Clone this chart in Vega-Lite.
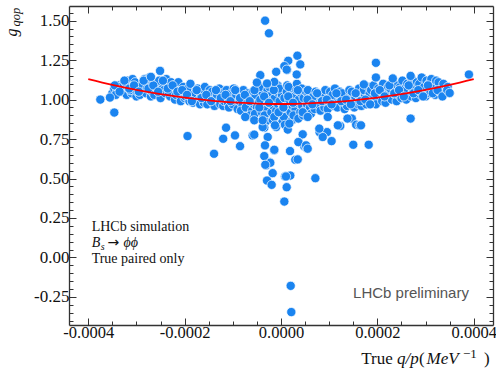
{
"$schema": "https://vega.github.io/schema/vega-lite/v6.json",
"width": 424, "height": 319,
"autosize": {"type": "none"},
"padding": {"left": 69, "top": 6, "right": 3, "bottom": 46},
"config": {
  "view": {"stroke": null},
  "axis": {"grid": false, "domainColor": "#333", "domainWidth": 1.3, "tickColor": "#333", "tickWidth": 1, "labelColor": "#111", "titleColor": "#111", "labelFont": "Liberation Serif", "titleFont": "Liberation Serif", "labelFontSize": 17, "titleFontWeight": "normal", "zindex": 1}
},
"datasets": {
  "pts": [
    {"q":-0.000350,"g":1.04},{"q":-0.000346,"g":1.07},
    {"q":-0.000340,"g":1.06},{"q":-0.000336,"g":1.09},{"q":-0.000343,"g":1.03},
    {"q":-0.000330,"g":1.05},{"q":-0.000326,"g":1.10},{"q":-0.000333,"g":1.08},
    {"q":-0.000320,"g":1.03},{"q":-0.000316,"g":1.07},{"q":-0.000323,"g":1.11},{"q":-0.000318,"g":1.12},
    {"q":-0.000310,"g":1.04},{"q":-0.000306,"g":1.09},{"q":-0.000313,"g":1.06},{"q":-0.000308,"g":1.13},
    {"q":-0.000300,"g":1.02},{"q":-0.000296,"g":1.08},{"q":-0.000303,"g":1.11},{"q":-0.000298,"g":1.05},
    {"q":-0.000290,"g":1.06},{"q":-0.000286,"g":1.12},{"q":-0.000293,"g":1.03},{"q":-0.000288,"g":1.09},
    {"q":-0.000280,"g":1.04},{"q":-0.000276,"g":1.10},{"q":-0.000283,"g":1.13},{"q":-0.000278,"g":1.07},
    {"q":-0.000270,"g":1.02},{"q":-0.000266,"g":1.08},{"q":-0.000273,"g":1.14},{"q":-0.000268,"g":1.05},
    {"q":-0.000260,"g":1.06},{"q":-0.000256,"g":1.11},{"q":-0.000263,"g":1.03},{"q":-0.000258,"g":1.09},
    {"q":-0.000250,"g":1.01},{"q":-0.000246,"g":1.07},{"q":-0.000253,"g":1.12},
    {"q":-0.000240,"g":1.04},{"q":-0.000236,"g":1.10},{"q":-0.000243,"g":1.06},{"q":-0.000238,"g":1.13},
    {"q":-0.000230,"g":1.02},{"q":-0.000226,"g":1.08},{"q":-0.000233,"g":1.05},{"q":-0.000228,"g":1.11},
    {"q":-0.000220,"g":1.00},{"q":-0.000216,"g":1.06},{"q":-0.000223,"g":1.09},{"q":-0.000218,"g":1.03},
    {"q":-0.000210,"g":1.03},{"q":-0.000206,"g":1.07},{"q":-0.000213,"g":1.11},{"q":-0.000208,"g":0.99},
    {"q":-0.000200,"g":1.01},{"q":-0.000196,"g":1.05},{"q":-0.000203,"g":1.08},{"q":-0.000198,"g":1.02},
    {"q":-0.000190,"g":0.99},{"q":-0.000186,"g":1.04},{"q":-0.000193,"g":1.07},{"q":-0.000188,"g":1.10},
    {"q":-0.000180,"g":1.02},{"q":-0.000176,"g":1.06},{"q":-0.000183,"g":0.98},{"q":-0.000178,"g":1.04},
    {"q":-0.000170,"g":1.00},{"q":-0.000166,"g":1.03},{"q":-0.000173,"g":1.07},{"q":-0.000168,"g":0.97},
    {"q":-0.000160,"g":0.98},{"q":-0.000156,"g":1.02},{"q":-0.000163,"g":1.05},{"q":-0.000158,"g":1.08},
    {"q":-0.000150,"g":1.00},{"q":-0.000146,"g":1.04},{"q":-0.000153,"g":0.97},{"q":-0.000148,"g":1.06},
    {"q":-0.000140,"g":0.98},{"q":-0.000136,"g":1.02},{"q":-0.000143,"g":1.05},{"q":-0.000138,"g":0.96},
    {"q":-0.000130,"g":1.00},{"q":-0.000126,"g":0.97},{"q":-0.000133,"g":1.03},{"q":-0.000128,"g":1.07},
    {"q":-0.000120,"g":0.96},{"q":-0.000116,"g":1.01},{"q":-0.000123,"g":1.04},{"q":-0.000118,"g":0.99},
    {"q":-0.000110,"g":0.98},{"q":-0.000106,"g":1.02},{"q":-0.000113,"g":1.06},{"q":-0.000108,"g":0.95},
    {"q":-0.000100,"g":0.97},{"q":-0.000096,"g":1.00},{"q":-0.000103,"g":1.04},{"q":-0.000098,"g":1.07},
    {"q":-0.000090,"g":0.94},{"q":-0.000086,"g":0.99},{"q":-0.000093,"g":1.03},{"q":-0.000088,"g":1.05},
    {"q":-0.000080,"g":0.96},{"q":-0.000076,"g":1.01},{"q":-0.000083,"g":0.93},{"q":-0.000078,"g":1.06},
    {"q":-0.000070,"g":0.98},{"q":-0.000066,"g":1.02},{"q":-0.000073,"g":0.95},{"q":-0.000068,"g":1.04},
    {"q":-0.000060,"g":0.93},{"q":-0.000056,"g":0.97},{"q":-0.000063,"g":1.01},{"q":-0.000058,"g":1.05},{"q":-0.000064,"g":0.90},
    {"q":-0.000050,"g":0.95},{"q":-0.000046,"g":0.99},{"q":-0.000053,"g":1.03},{"q":-0.000048,"g":1.07},{"q":-0.000054,"g":0.91},
    {"q":-0.000040,"g":0.92},{"q":-0.000036,"g":0.97},{"q":-0.000043,"g":1.00},{"q":-0.000038,"g":1.04},{"q":-0.000044,"g":1.08},{"q":-0.000037,"g":0.88},
    {"q":-0.000030,"g":0.94},{"q":-0.000026,"g":0.98},{"q":-0.000033,"g":1.02},{"q":-0.000028,"g":1.06},{"q":-0.000034,"g":0.90},{"q":-0.000027,"g":1.10},{"q":-0.000032,"g":0.86},
    {"q":-0.000020,"g":0.92},{"q":-0.000016,"g":0.96},{"q":-0.000023,"g":1.00},{"q":-0.000018,"g":1.04},{"q":-0.000024,"g":1.08},{"q":-0.000017,"g":0.87},
    {"q":-0.000010,"g":0.93},{"q":-0.000006,"g":0.97},{"q":-0.000013,"g":1.01},{"q":-0.000008,"g":1.05},{"q":-0.000014,"g":0.89},{"q":-0.000007,"g":1.09},
    {"q":0.000000,"g":0.91},{"q":0.000004,"g":0.95},{"q":-0.000003,"g":0.99},{"q":0.000002,"g":1.03},{"q":-0.000004,"g":1.07},{"q":0.000003,"g":0.86},
    {"q":0.000010,"g":0.93},{"q":0.000014,"g":0.97},{"q":0.000007,"g":1.01},{"q":0.000012,"g":1.05},{"q":0.000006,"g":0.89},{"q":0.000013,"g":1.09},{"q":0.000008,"g":0.84},
    {"q":0.000020,"g":0.92},{"q":0.000024,"g":0.96},{"q":0.000017,"g":1.00},{"q":0.000022,"g":1.04},{"q":0.000016,"g":1.08},{"q":0.000023,"g":0.87},
    {"q":0.000030,"g":0.94},{"q":0.000034,"g":0.98},{"q":0.000027,"g":1.02},{"q":0.000032,"g":1.06},{"q":0.000026,"g":0.90},{"q":0.000033,"g":1.10},
    {"q":0.000040,"g":0.92},{"q":0.000044,"g":0.96},{"q":0.000037,"g":1.00},{"q":0.000042,"g":1.04},{"q":0.000036,"g":0.88},{"q":0.000043,"g":1.07},
    {"q":0.000050,"g":0.93},{"q":0.000054,"g":0.97},{"q":0.000047,"g":1.01},{"q":0.000052,"g":1.05},{"q":0.000046,"g":0.90},
    {"q":0.000060,"g":0.95},{"q":0.000064,"g":0.99},{"q":0.000057,"g":1.03},{"q":0.000062,"g":0.91},{"q":0.000056,"g":1.06},
    {"q":0.000070,"g":0.94},{"q":0.000074,"g":0.98},{"q":0.000067,"g":1.02},{"q":0.000072,"g":1.05},
    {"q":0.000080,"g":0.96},{"q":0.000084,"g":1.00},{"q":0.000077,"g":1.04},{"q":0.000082,"g":0.93},
    {"q":0.000090,"g":0.95},{"q":0.000094,"g":0.99},{"q":0.000087,"g":1.03},{"q":0.000092,"g":1.06},
    {"q":0.000100,"g":0.97},{"q":0.000104,"g":1.01},{"q":0.000097,"g":0.94},{"q":0.000102,"g":1.05},
    {"q":0.000110,"g":0.96},{"q":0.000114,"g":1.00},{"q":0.000107,"g":1.03},{"q":0.000112,"g":1.07},
    {"q":0.000120,"g":0.98},{"q":0.000124,"g":1.02},{"q":0.000117,"g":0.95},{"q":0.000122,"g":1.05},
    {"q":0.000130,"g":0.97},{"q":0.000134,"g":1.01},{"q":0.000127,"g":1.04},{"q":0.000132,"g":0.94},
    {"q":0.000140,"g":0.99},{"q":0.000144,"g":1.03},{"q":0.000137,"g":0.96},{"q":0.000142,"g":1.06},
    {"q":0.000150,"g":0.98},{"q":0.000154,"g":1.02},{"q":0.000147,"g":1.05},{"q":0.000152,"g":0.95},
    {"q":0.000160,"g":0.97},{"q":0.000164,"g":1.01},{"q":0.000157,"g":1.04},{"q":0.000162,"g":1.07},
    {"q":0.000170,"g":0.99},{"q":0.000174,"g":1.03},{"q":0.000167,"g":0.96},{"q":0.000172,"g":1.06},
    {"q":0.000180,"g":1.00},{"q":0.000184,"g":1.04},{"q":0.000177,"g":0.97},{"q":0.000182,"g":1.08},
    {"q":0.000190,"g":0.98},{"q":0.000194,"g":1.02},{"q":0.000187,"g":1.06},{"q":0.000192,"g":1.09},
    {"q":0.000200,"g":1.00},{"q":0.000204,"g":1.04},{"q":0.000197,"g":0.97},{"q":0.000202,"g":1.07},
    {"q":0.000210,"g":0.99},{"q":0.000214,"g":1.03},{"q":0.000207,"g":1.06},{"q":0.000212,"g":1.10},
    {"q":0.000220,"g":1.01},{"q":0.000224,"g":1.05},{"q":0.000217,"g":0.98},{"q":0.000222,"g":1.08},
    {"q":0.000230,"g":1.00},{"q":0.000234,"g":1.04},{"q":0.000227,"g":1.07},{"q":0.000232,"g":1.11},
    {"q":0.000240,"g":0.99},{"q":0.000244,"g":1.03},{"q":0.000237,"g":1.06},{"q":0.000242,"g":1.09},
    {"q":0.000250,"g":1.01},{"q":0.000254,"g":1.05},{"q":0.000247,"g":1.08},{"q":0.000252,"g":1.12},
    {"q":0.000260,"g":1.00},{"q":0.000264,"g":1.04},{"q":0.000257,"g":1.07},{"q":0.000262,"g":1.10},
    {"q":0.000270,"g":1.02},{"q":0.000274,"g":1.06},{"q":0.000267,"g":1.09},{"q":0.000272,"g":1.13},
    {"q":0.000280,"g":1.01},{"q":0.000284,"g":1.05},{"q":0.000277,"g":1.08},{"q":0.000282,"g":1.11},
    {"q":0.000290,"g":1.03},{"q":0.000294,"g":1.06},{"q":0.000287,"g":1.10},{"q":0.000292,"g":1.14},
    {"q":0.000300,"g":1.02},{"q":0.000304,"g":1.05},{"q":0.000297,"g":1.08},{"q":0.000302,"g":1.12},
    {"q":0.000310,"g":1.04},{"q":0.000314,"g":1.07},{"q":0.000307,"g":1.10},{"q":0.000312,"g":1.13},
    {"q":0.000320,"g":1.03},{"q":0.000324,"g":1.06},{"q":0.000317,"g":1.09},{"q":0.000322,"g":1.12},
    {"q":0.000330,"g":1.05},{"q":0.000334,"g":1.08},{"q":0.000327,"g":1.11},
    {"q":0.000340,"g":1.04},{"q":0.000344,"g":1.07},{"q":0.000337,"g":1.10},
    {"q":0.000350,"g":1.04},{"q":0.000346,"g":1.08},
    {"q":-0.000345,"g":1.09},{"q":-0.000335,"g":1.05},{"q":-0.000325,"g":1.12},{"q":-0.000315,"g":1.07},
    {"q":-0.000305,"g":1.09},{"q":-0.000295,"g":1.05},{"q":-0.000285,"g":1.12},{"q":-0.000275,"g":1.07},
    {"q":-0.000265,"g":1.09},{"q":-0.000255,"g":1.05},{"q":-0.000245,"g":1.12},{"q":-0.000235,"g":1.07},
    {"q":-0.000225,"g":1.09},{"q":-0.000215,"g":1.05},{"q":-0.000205,"g":1.06},{"q":-0.000195,"g":1.03},
    {"q":-0.000185,"g":0.99},{"q":-0.000175,"g":1.06},{"q":-0.000165,"g":1.01},{"q":-0.000155,"g":1.03},
    {"q":-0.000145,"g":0.99},{"q":-0.000135,"g":1.06},{"q":-0.000125,"g":1.01},{"q":-0.000115,"g":1.03},
    {"q":-0.000105,"g":0.99},{"q":-0.000095,"g":1.06},{"q":-0.000085,"g":1.01},{"q":-0.000075,"g":1.03},
    {"q":-0.000065,"g":0.99},{"q":-0.000055,"g":1.06},{"q":-0.000045,"g":0.95},{"q":-0.000035,"g":1.02},
    {"q":-0.000025,"g":0.98},{"q":-0.000015,"g":1.06},{"q":-0.000005,"g":0.92},{"q":0.000005,"g":0.95},
    {"q":0.000015,"g":1.02},{"q":0.000025,"g":0.98},{"q":0.000035,"g":1.06},{"q":0.000045,"g":0.92},
    {"q":0.000055,"g":1.00},{"q":0.000065,"g":0.97},{"q":0.000075,"g":1.04},{"q":0.000085,"g":0.99},
    {"q":0.000095,"g":1.00},{"q":0.000105,"g":0.97},{"q":0.000115,"g":1.04},{"q":0.000125,"g":0.99},
    {"q":0.000135,"g":1.00},{"q":0.000145,"g":0.97},{"q":0.000155,"g":1.04},{"q":0.000165,"g":0.99},
    {"q":0.000175,"g":1.00},{"q":0.000185,"g":0.97},{"q":0.000195,"g":1.04},{"q":0.000205,"g":1.06},
    {"q":0.000215,"g":1.02},{"q":0.000225,"g":1.09},{"q":0.000235,"g":1.04},{"q":0.000245,"g":1.06},
    {"q":0.000255,"g":1.02},{"q":0.000265,"g":1.09},{"q":0.000275,"g":1.04},{"q":0.000285,"g":1.06},
    {"q":0.000295,"g":1.02},{"q":0.000305,"g":1.09},{"q":0.000315,"g":1.04},{"q":0.000325,"g":1.06},
    {"q":0.000335,"g":1.02},{"q":0.000345,"g":1.06},
    {"q":-0.000033,"g":1.50},{"q":-0.000025,"g":1.42},{"q":0.000034,"g":1.278},{"q":0.000015,"g":1.246},
    {"q":0.000040,"g":1.223},{"q":0.000007,"g":1.212},{"q":0.0000125,"g":1.187},{"q":-0.000010,"g":1.176},
    {"q":0.0000326,"g":1.159},{"q":-0.000043,"g":1.155},{"q":-0.000050,"g":1.108},{"q":-0.000014,"g":1.112},
    {"q":-0.000029,"g":1.102},{"q":0.000197,"g":1.233},{"q":0.000197,"g":1.14},{"q":0.00039,"g":1.159},
    {"q":0.000269,"g":1.15},{"q":0.000232,"g":1.134},{"q":0.000172,"g":1.096},{"q":-0.000251,"g":1.182},
    {"q":-0.000270,"g":1.144},{"q":0.0000118,"g":1.19},
    {"q":0.000269,"g":0.88},{"q":0.000147,"g":0.88},{"q":0.000123,"g":0.833},{"q":0.000156,"g":0.841},
    {"q":0.000163,"g":0.837},{"q":0.000080,"g":0.794},{"q":0.0000955,"g":0.794},{"q":0.0000866,"g":0.763},
    {"q":0.000105,"g":0.737},{"q":0.000045,"g":0.78},{"q":0.0000367,"g":0.731},{"q":0.0000484,"g":0.703},
    {"q":0.0000533,"g":0.693},{"q":0.000150,"g":0.714},{"q":0.000182,"g":0.714},{"q":0.0000187,"g":0.674},
    {"q":-0.000014,"g":0.678},{"q":0.0000297,"g":0.619},{"q":0.000014,"g":0.81},{"q":-0.0000347,"g":0.822},
    {"q":0.0000083,"g":0.513},{"q":0.0000713,"g":0.502},{"q":-0.0000173,"g":0.534},{"q":-0.000031,"g":0.583},
    {"q":-0.0000243,"g":0.604},{"q":-0.000114,"g":0.822},{"q":-0.000120,"g":0.752},{"q":-0.0000955,"g":0.773},
    {"q":-0.000085,"g":0.705},{"q":-0.000139,"g":0.657},{"q":-0.0000588,"g":0.773},{"q":-0.0000347,"g":0.642},
    {"q":-0.0000222,"g":0.60},{"q":-0.000029,"g":0.487},{"q":-0.0000194,"g":0.46},{"q":0.0000193,"g":0.519},
    {"q":0.0000118,"g":0.445},{"q":0.0000069,"g":0.354},{"q":0.000036,"g":0.731},
    {"q":-0.000375,"g":1.0},{"q":-0.000355,"g":1.013},{"q":-0.000346,"g":0.918},{"q":-0.000194,"g":0.769},
    {"q":-0.0000742,"g":0.89},{"q":-0.0000555,"g":0.778},{"q":0.0000201,"g":-0.18},{"q":0.0000214,"g":-0.346},
    {"q":0.00035,"g":1.042},{"q":0.000166,"g":0.837},
    {"q":-0.000038,"g":0.826},{"q":-0.000010,"g":0.826},{"q":-0.0000276,"g":0.763},{"q":-0.0000332,"g":0.71},
    {"q":-0.0000139,"g":0.682},{"q":-0.0000326,"g":0.587},{"q":0.0000104,"g":0.513},{"q":0.0000347,"g":0.621},
    {"q":0.000052,"g":0.71},{"q":0.0000554,"g":0.689},
    {"q":-0.0000555,"g":0.869},{"q":-0.000038,"g":0.869},{"q":-0.0000125,"g":0.837},{"q":0.0000173,"g":0.848},
    {"q":0.0000554,"g":0.89},{"q":0.0000795,"g":0.816},{"q":0.000097,"g":0.89},{"q":0.000118,"g":0.837},
    {"q":0.000138,"g":0.88}
  ],
  "fit": [
    {"q":-0.0004,"g":1.130},{"q":-0.00035,"g":1.093},{"q":-0.0003,"g":1.061},{"q":-0.00025,"g":1.034},
    {"q":-0.0002,"g":1.012},{"q":-0.00015,"g":0.995},{"q":-0.0001,"g":0.982},{"q":-0.00005,"g":0.975},
    {"q":0,"g":0.972},{"q":0.00005,"g":0.975},{"q":0.0001,"g":0.982},{"q":0.00015,"g":0.995},
    {"q":0.0002,"g":1.012},{"q":0.00025,"g":1.034},{"q":0.0003,"g":1.061},{"q":0.00035,"g":1.093},
    {"q":0.0004,"g":1.130}
  ],
  "serif": [
    {"t":"LHCb simulation","q":-0.000393,"g":0.169},
    {"t":"True paired only","q":-0.000393,"g":-0.036}
  ],
  "italic": [
    {"t":"B","q":-0.000393,"g":0.064},
    {"t":"ϕϕ","q":-0.000327,"g":0.064}
  ],
  "sub": [{"t":"s","q":-0.000374,"g":0.044}],
  "arrow": [{"t":"→","q":-0.00036,"g":0.064}],
  "prelim": [{"t":"LHCb preliminary","q":0.00039,"g":-0.2565}]
},
"layer": [
  {
    "data": {"name": "pts"},
    "mark": {"type": "circle", "size": 85, "fill": "#1a84f0", "opacity": 1, "stroke": "white", "strokeWidth": 0.7},
    "encoding": {
      "x": {"field": "q", "type": "quantitative", "scale": {"domain": [-0.00044, 0.00044], "nice": false, "zero": false},
        "axis": {"orient": "bottom", "values": [-0.0004, -0.0002, 0, 0.0002, 0.0004], "tickSize": -7, "labelPadding": 6, "labelFontSize": 16.5,
          "labelExpr": "replace(format(datum.value, '.4f'), '\u2212', '-')",
          "title": "True", "titleFontSize": 17, "titleX": 291.7, "titleY": 38, "titleAlign": "left", "titleBaseline": "alphabetic", "titleAngle": 0}},
      "y": {"field": "g", "type": "quantitative", "scale": {"domain": [-0.428, 1.593], "nice": false, "zero": false},
        "axis": {"orient": "left", "values": [-0.25, 0, 0.25, 0.5, 0.75, 1, 1.25, 1.5], "tickSize": -7, "labelPadding": 7,
          "labelExpr": "replace(format(datum.value, '.2f'), '\u2212', '-')",
          "title": "g", "titleFontStyle": "italic", "titleFontSize": 16, "titleX": -53, "titleY": 30, "titleAngle": 270, "titleAlign": "left", "titleBaseline": "alphabetic"}}
    }
  },
  {
    "data": {"name": "fit"},
    "mark": {"type": "line", "color": "#ff0000", "strokeWidth": 1.8, "interpolate": "monotone"},
    "encoding": {
      "x": {"field": "q", "type": "quantitative", "scale": {"domain": [-0.00044, 0.00044], "nice": false, "zero": false},
        "axis": {"orient": "bottom", "values": [-0.00035, -0.0003, -0.00025, -0.00015, -0.0001, -0.00005, 0.00005, 0.0001, 0.00015, 0.00025, 0.0003, 0.00035], "tickSize": -4, "labels": false, "domain": false,
          "title": "q/p", "titleFontStyle": "italic", "titleFontSize": 17, "titleX": 327.5, "titleY": 38, "titleAlign": "left", "titleBaseline": "alphabetic", "titleAngle": 0}},
      "y": {"field": "g", "type": "quantitative", "scale": {"domain": [-0.428, 1.593], "nice": false, "zero": false},
        "axis": {"orient": "left", "values": [-0.4, -0.35, -0.3, -0.2, -0.15, -0.1, -0.05, 0.05, 0.1, 0.15, 0.2, 0.3, 0.35, 0.4, 0.45, 0.55, 0.6, 0.65, 0.7, 0.8, 0.85, 0.9, 0.95, 1.05, 1.1, 1.15, 1.2, 1.3, 1.35, 1.4, 1.45, 1.55], "tickSize": -4, "labels": false, "domain": false,
          "title": "qop", "titleFontStyle": "italic", "titleFontSize": 12.5, "titleX": -50, "titleY": 20, "titleAngle": 270, "titleAlign": "left", "titleBaseline": "alphabetic"}}
    }
  },
  {
    "data": {"name": "serif"},
    "mark": {"type": "text", "align": "left", "baseline": "alphabetic", "font": "Liberation Serif", "fontSize": 14, "color": "#111"},
    "encoding": {
      "x": {"field": "q", "type": "quantitative", "scale": {"domain": [-0.00044, 0.00044], "nice": false, "zero": false},
        "axis": {"orient": "top", "values": [-0.0004, -0.0002, 0, 0.0002, 0.0004], "tickSize": -7, "labels": false,
          "title": "MeV", "titleFontStyle": "italic", "titleFontSize": 17, "titleX": 357, "titleY": 357, "titleAlign": "left", "titleBaseline": "alphabetic", "titleAngle": 0}},
      "y": {"field": "g", "type": "quantitative", "scale": {"domain": [-0.428, 1.593], "nice": false, "zero": false},
        "axis": {"orient": "right", "values": [-0.25, 0, 0.25, 0.5, 0.75, 1, 1.25, 1.5], "tickSize": -7, "labels": false,
          "title": ")", "titleFontSize": 17, "titleX": -9.5, "titleY": 357, "titleAlign": "left", "titleBaseline": "alphabetic", "titleAngle": 0}},
      "text": {"field": "t"}
    }
  },
  {
    "data": {"name": "italic"},
    "mark": {"type": "text", "align": "left", "baseline": "alphabetic", "font": "Liberation Serif", "fontStyle": "italic", "fontSize": 14, "color": "#111"},
    "encoding": {
      "x": {"field": "q", "type": "quantitative", "scale": {"domain": [-0.00044, 0.00044], "nice": false, "zero": false},
        "axis": {"orient": "top", "values": [-0.00035, -0.0003, -0.00025, -0.00015, -0.0001, -0.00005, 0.00005, 0.0001, 0.00015, 0.00025, 0.0003, 0.00035], "tickSize": -4, "labels": false, "domain": false,
          "title": "\u22121", "titleFontSize": 13, "titleX": 393.5, "titleY": 351, "titleAlign": "left", "titleBaseline": "alphabetic", "titleAngle": 0}},
      "y": {"field": "g", "type": "quantitative", "scale": {"domain": [-0.428, 1.593], "nice": false, "zero": false},
        "axis": {"orient": "right", "values": [-0.4, -0.35, -0.3, -0.2, -0.15, -0.1, -0.05, 0.05, 0.1, 0.15, 0.2, 0.3, 0.35, 0.4, 0.45, 0.55, 0.6, 0.65, 0.7, 0.8, 0.85, 0.9, 0.95, 1.05, 1.1, 1.15, 1.2, 1.3, 1.35, 1.4, 1.45, 1.55], "tickSize": -4, "labels": false, "domain": false,
          "title": "(", "titleFontSize": 17, "titleX": -74.5, "titleY": 357, "titleAlign": "left", "titleBaseline": "alphabetic", "titleAngle": 0}},
      "text": {"field": "t"}
    }
  },
  {
    "data": {"name": "sub"},
    "mark": {"type": "text", "align": "left", "baseline": "alphabetic", "font": "Liberation Serif", "fontStyle": "italic", "fontSize": 10, "color": "#111"},
    "encoding": {
      "x": {"field": "q", "type": "quantitative", "scale": {"domain": [-0.00044, 0.00044], "nice": false, "zero": false}, "axis": null},
      "y": {"field": "g", "type": "quantitative", "scale": {"domain": [-0.428, 1.593], "nice": false, "zero": false}, "axis": null},
      "text": {"field": "t"}
    }
  },
  {
    "data": {"name": "arrow"},
    "mark": {"type": "text", "align": "left", "baseline": "alphabetic", "font": "DejaVu Sans", "fontSize": 14, "color": "#111"},
    "encoding": {
      "x": {"field": "q", "type": "quantitative", "scale": {"domain": [-0.00044, 0.00044], "nice": false, "zero": false}, "axis": null},
      "y": {"field": "g", "type": "quantitative", "scale": {"domain": [-0.428, 1.593], "nice": false, "zero": false}, "axis": null},
      "text": {"field": "t"}
    }
  },
  {
    "data": {"name": "prelim"},
    "mark": {"type": "text", "align": "right", "baseline": "alphabetic", "font": "Liberation Sans", "fontSize": 15, "color": "#555"},
    "encoding": {
      "x": {"field": "q", "type": "quantitative", "scale": {"domain": [-0.00044, 0.00044], "nice": false, "zero": false}, "axis": null},
      "y": {"field": "g", "type": "quantitative", "scale": {"domain": [-0.428, 1.593], "nice": false, "zero": false}, "axis": null},
      "text": {"field": "t"}
    }
  }
],
"resolve": {"scale": {"x": "shared", "y": "shared"}, "axis": {"x": "independent", "y": "independent"}}
}
